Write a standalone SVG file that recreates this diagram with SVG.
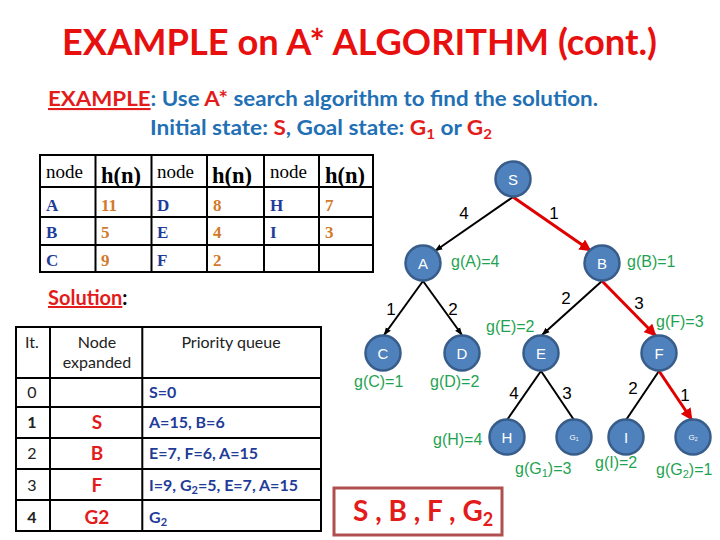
<svg xmlns="http://www.w3.org/2000/svg" width="720" height="540" viewBox="0 0 720 540">
<defs>
<style>
.title{font-family:Lato,"Liberation Sans",sans-serif;font-weight:bold;font-size:37px;fill:#E8100F}
.sub{font-family:Lato,"Liberation Sans",sans-serif;font-weight:bold;font-size:21px;fill:#1F70B5}
.red{fill:#E31B1B}
.ht{font-family:"Liberation Serif",serif;font-size:19px;fill:#000}
.hh{font-family:"Liberation Serif",serif;font-weight:bold;font-size:22.5px;fill:#000}
.hn{font-family:"Liberation Serif",serif;font-weight:bold;font-size:17px;fill:#1F3C99}
.hv{font-family:"Liberation Serif",serif;font-weight:bold;font-size:17px;fill:#D27A2C}
.grid{stroke:#000;stroke-width:2;fill:none}
.t2{font-family:Lato,"Liberation Sans",sans-serif;font-size:16px;fill:#222}
.t2c{font-family:Lato,"Liberation Sans",sans-serif;font-size:16px;fill:#222;text-anchor:middle}
.pq{font-family:Lato,"Liberation Sans",sans-serif;font-weight:bold;font-size:16px;fill:#1F3C99}
.nx{font-family:Lato,"Liberation Sans",sans-serif;font-weight:bold;font-size:19px;fill:#E31B1B;text-anchor:middle}
.node circle{fill:#4F81BD;stroke:#385D8A;stroke-width:2.5}
.node text{font-family:"Liberation Sans",Arial,sans-serif;font-size:15px;fill:#fff;text-anchor:middle}
.node text.s{font-size:8px}
.g{font-family:"Liberation Sans",Arial,sans-serif;font-size:16px;fill:#1FA352}
.el{font-family:"Liberation Sans",Arial,sans-serif;font-size:17px;fill:#000;text-anchor:middle}
.e{stroke:#000;stroke-width:2;fill:none}
.er{stroke:#E00000;stroke-width:3;fill:none}
</style>
<marker id="ab" markerUnits="userSpaceOnUse" markerWidth="8" markerHeight="8" viewBox="0 0 8 8" refX="7.5" refY="4" orient="auto"><path d="M0,1 L8,4 L0,7z" fill="#000"/></marker>
<marker id="ar" markerUnits="userSpaceOnUse" markerWidth="12" markerHeight="12" viewBox="0 0 10 10" refX="9.5" refY="5" orient="auto"><path d="M0,0 L10,5 L0,10z" fill="#E00000"/></marker>
</defs>
<rect width="720" height="540" fill="#fff"/>

<text class="title" x="62" y="55" textLength="595" lengthAdjust="spacingAndGlyphs">EXAMPLE on A* ALGORITHM (cont.)</text>

<text class="sub" x="48" y="106" textLength="550" lengthAdjust="spacingAndGlyphs"><tspan class="red" text-decoration="underline">EXAMPLE</tspan>: Use <tspan class="red">A*</tspan> search algorithm to find the solution.</text>
<text class="sub" x="150" y="135" textLength="342" lengthAdjust="spacingAndGlyphs">Initial state: <tspan class="red">S</tspan>, Goal state: <tspan class="red">G</tspan><tspan class="red" font-size="14" dy="4">1</tspan><tspan dy="-4"> or </tspan><tspan class="red">G</tspan><tspan class="red" font-size="14" dy="4">2</tspan></text>

<g id="htable">
<rect class="grid" x="40" y="155" width="333" height="117"/>
<path class="grid" d="M40,187H373M40,217H373M40,245H373M95.5,155V272M151.5,155V272M207,155V272M264,155V272M319,155V272"/>
<text class="ht" x="46" y="178">node</text><text class="hh" x="101" y="183">h(n)</text>
<text class="ht" x="157" y="178">node</text><text class="hh" x="212" y="183">h(n)</text>
<text class="ht" x="270" y="178">node</text><text class="hh" x="325" y="183">h(n)</text>
<text class="hn" x="46" y="211">A</text><text class="hv" x="101" y="211">11</text><text class="hn" x="157" y="211">D</text><text class="hv" x="213" y="211">8</text><text class="hn" x="270" y="211">H</text><text class="hv" x="325" y="211">7</text>
<text class="hn" x="46" y="238">B</text><text class="hv" x="101" y="238">5</text><text class="hn" x="157" y="238">E</text><text class="hv" x="213" y="238">4</text><text class="hn" x="270" y="238">I</text><text class="hv" x="325" y="238">3</text>
<text class="hn" x="46" y="266">C</text><text class="hv" x="101" y="266">9</text><text class="hn" x="157" y="266">F</text><text class="hv" x="213" y="266">2</text>
</g>

<text x="48" y="305" font-family="Lato,'Liberation Sans',sans-serif" font-weight="bold" font-size="20"><tspan fill="#E31B1B" text-decoration="underline">Solution</tspan><tspan fill="#000">:</tspan></text>

<g id="ptable">
<rect class="grid" x="16" y="327" width="305" height="204"/>
<path class="grid" d="M16,378H321M16,407H321M16,438H321M16,469H321M16,500H321M50,327V531M142.3,327V531"/>
<text class="t2c" x="32" y="348">It.</text>
<text class="t2c" x="97" y="348">Node</text>
<text class="t2c" x="97" y="368">expanded</text>
<text class="t2c" x="231" y="348">Priority queue</text>
<text class="t2c" x="32" y="398">0</text>
<text class="pq" x="149" y="398">S=0</text>
<text class="t2c" x="32" y="428" font-weight="bold">1</text>
<text class="nx" x="97" y="429">S</text>
<text class="pq" x="149" y="428">A=15, B=6</text>
<text class="t2c" x="32" y="459">2</text>
<text class="nx" x="97" y="460">B</text>
<text class="pq" x="149" y="459">E=7, F=6, A=15</text>
<text class="t2c" x="32" y="491">3</text>
<text class="nx" x="97" y="492">F</text>
<text class="pq" x="149" y="491">I=9, G<tspan font-size="11" dy="3">2</tspan><tspan dy="-3">=5, E=7, A=15</tspan></text>
<text class="t2c" x="32" y="523" font-weight="bold">4</text>
<text class="nx" x="97" y="524">G2</text>
<text class="pq" x="149" y="523">G<tspan font-size="11" dy="3">2</tspan></text>
</g>

<g id="answer">
<rect x="334" y="488" width="168" height="47" fill="none" stroke="#B0504E" stroke-width="3"/>
<text x="353" y="521" font-family="Lato,'Liberation Sans',sans-serif" font-weight="bold" font-size="28" fill="#E31B1B">S , B , F , G<tspan font-size="18" dy="5">2</tspan></text>
</g>

<g id="connectors">
<line class="e" x1="513" y1="197" x2="435" y2="251" marker-end="url(#ab)"/>
<line class="er" x1="513" y1="197" x2="591" y2="251" marker-end="url(#ar)"/>
<line class="e" x1="423" y1="281" x2="384" y2="335" marker-end="url(#ab)"/>
<line class="e" x1="423" y1="281" x2="462" y2="335" marker-end="url(#ab)"/>
<line class="e" x1="602" y1="281" x2="542" y2="335" marker-end="url(#ab)"/>
<line class="er" x1="602" y1="281" x2="656" y2="336" marker-end="url(#ar)"/>
<line class="e" x1="541" y1="371" x2="507" y2="420"/>
<line class="e" x1="541" y1="371" x2="574" y2="420"/>
<line class="e" x1="659" y1="371" x2="626" y2="420"/>
<line class="er" x1="659" y1="371" x2="692" y2="420" marker-end="url(#ar)"/>
<text class="el" x="464" y="219">4</text>
<text class="el" x="554" y="219">1</text>
<text class="el" x="391" y="315">1</text>
<text class="el" x="453" y="315">2</text>
<text class="el" x="566" y="304">2</text>
<text class="el" x="639" y="309">3</text>
<text class="el" x="514" y="399">4</text>
<text class="el" x="567" y="399">3</text>
<text class="el" x="633" y="394">2</text>
<text class="el" x="685" y="401">1</text>
</g>

<g id="node-S" class="node"><circle cx="513" cy="179" r="17.5"/><text x="513" y="185">S</text></g>
<g id="node-A" class="node"><circle cx="423" cy="263" r="17.5"/><text x="423" y="269">A</text></g>
<g id="node-B" class="node"><circle cx="602" cy="263" r="17.5"/><text x="602" y="269">B</text></g>
<g id="node-C" class="node"><circle cx="383" cy="353" r="17.5"/><text x="383" y="359">C</text></g>
<g id="node-D" class="node"><circle cx="462" cy="353" r="17.5"/><text x="462" y="359">D</text></g>
<g id="node-E" class="node"><circle cx="541" cy="353" r="17.5"/><text x="541" y="359">E</text></g>
<g id="node-F" class="node"><circle cx="659" cy="353" r="17.5"/><text x="659" y="359">F</text></g>
<g id="node-H" class="node"><circle cx="507" cy="437" r="17.5"/><text x="507" y="443">H</text></g>
<g id="node-G1" class="node"><circle cx="574" cy="437" r="17.5"/><text class="s" x="574" y="440">G<tspan font-size="5" dy="1">1</tspan></text></g>
<g id="node-I" class="node"><circle cx="626" cy="437" r="17.5"/><text x="626" y="443">I</text></g>
<g id="node-G2" class="node"><circle cx="693" cy="437" r="17.5"/><text class="s" x="693" y="440">G<tspan font-size="5" dy="1">2</tspan></text></g>

<g id="glabels">
<text class="g" x="451" y="267">g(A)=4</text>
<text class="g" x="627" y="267">g(B)=1</text>
<text class="g" x="486" y="332">g(E)=2</text>
<text class="g" x="656" y="327">g(F)=3</text>
<text class="g" x="354" y="387">g(C)=1</text>
<text class="g" x="430" y="387">g(D)=2</text>
<text class="g" x="433" y="445">g(H)=4</text>
<text class="g" x="515" y="474">g(G<tspan font-size="11" dy="3">1</tspan><tspan dy="-3">)=3</tspan></text>
<text class="g" x="595" y="468">g(I)=2</text>
<text class="g" x="656" y="475">g(G<tspan font-size="11" dy="3">2</tspan><tspan dy="-3">)=1</tspan></text>
</g>
</svg>
